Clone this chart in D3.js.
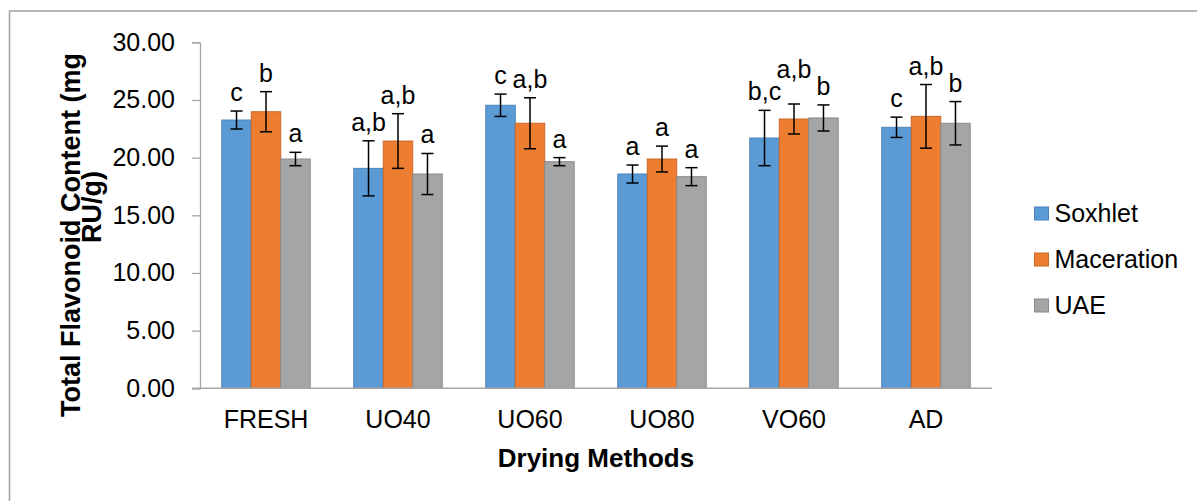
<!DOCTYPE html>
<html>
<head>
<meta charset="utf-8">
<script src="https://cdn.jsdelivr.net/npm/d3@7"></script>
<style>
  body { margin: 0; background: #fff; }
  text { font-family: 'Liberation Sans', Arial, sans-serif; }
</style>
</head>
<body>
<div id="chart"></div>
<script>
const categories = ['FRESH', 'UO40', 'UO60', 'UO80', 'VO60', 'AD']
const seriesNames = ['Soxhlet', 'Maceration', 'UAE']

const soxhlet = [23.26, 19.07, 24.54, 18.58, 21.70, 22.63]
const maceration = [23.98, 21.44, 22.98, 19.88, 23.35, 23.58]
const uae = [19.88, 18.58, 19.65, 18.35, 23.44, 22.98]

const soxhletErr = [0.78, 2.39, 0.97, 0.78, 2.40, 0.88]
const macerationErr = [1.74, 2.37, 2.21, 1.12, 1.30, 2.76]
const uaeErr = [0.58, 1.78, 0.35, 0.78, 1.13, 1.88]

const soxhletLetters = ['c', 'a,b', 'c', 'a', 'b,c', 'c']
const macerationLetters = ['b', 'a,b', 'a,b', 'a', 'a,b', 'a,b']
const uaeLetters = ['a', 'a', 'a', 'a', 'b', 'b']

const yTicks = [0, 5, 10, 15, 20, 25, 30]

const options = {
  width: 1197,
  height: 501,
  padding: { top: 42.3, right: 205, bottom: 112.7, left: 200 },
  colors: ['#5b9bd5', '#ed7d31', '#a5a5a5'],
  strokes: ['#4a84b8', '#c8682a', '#8a8a8a'],
  axisColor: '#a6a6a6',
  fontSize: 25
}

const series = seriesNames.map((name, i) => ({
  name,
  values: [soxhlet, maceration, uae][i],
  errors: [soxhletErr, macerationErr, uaeErr][i],
  letters: [soxhletLetters, macerationLetters, uaeLetters][i]
}))

const { width, height, padding } = options
const plotRight = width - padding.right
const plotBottom = height - padding.bottom

const svg = d3.select('#chart')
  .append('svg')
  .attr('width', width)
  .attr('height', height)

// outer frame (runs off the right / bottom edge)
svg.append('rect')
  .attr('x', 9.5)
  .attr('y', 11)
  .attr('width', 1300)
  .attr('height', 600)
  .attr('fill', 'none')
  .attr('stroke', '#a0a0a0')
  .attr('stroke-width', 1.5)

const x0 = d3.scaleBand()
  .domain(categories)
  .range([padding.left, plotRight])
  .paddingInner(0.33)
  .paddingOuter(0.165)

const x1 = d3.scaleBand()
  .domain(seriesNames)
  .range([0, x0.bandwidth()])

const y = d3.scaleLinear()
  .domain([0, 30])
  .range([plotBottom, padding.top])

// y axis
const gY = svg.append('g')
  .attr('transform', `translate(${padding.left},0)`)
  .call(d3.axisLeft(y).tickValues(yTicks).tickSize(8).tickPadding(17).tickFormat(d3.format('.2f')))
gY.select('.domain').attr('stroke', options.axisColor).attr('stroke-width', 1.3)
gY.selectAll('.tick line').attr('stroke', options.axisColor).attr('stroke-width', 1.3)
gY.selectAll('.tick text')
  .attr('font-size', options.fontSize)
  .attr('font-family', "'Liberation Sans', Arial, sans-serif")
  .attr('fill', '#000')

// bars
const gBars = svg.append('g')
series.forEach((s, si) => {
  gBars.selectAll(`.bar-${si}`)
    .data(categories)
    .enter()
    .append('rect')
    .attr('x', (d) => x0(d) + x1(s.name))
    .attr('y', (d, i) => y(s.values[i]))
    .attr('width', x1.bandwidth())
    .attr('height', (d, i) => y(0) - y(s.values[i]))
    .attr('fill', options.colors[si])
    .attr('stroke', options.strokes[si])
    .attr('stroke-width', 1)
})

// x axis (category labels, no ticks)
const gX = svg.append('g')
  .attr('transform', `translate(0,${plotBottom})`)
  .call(d3.axisBottom(x0).tickSize(0).tickPadding(22))
gX.select('.domain').remove()
gX.append('line')
  .attr('x1', padding.left - 8)
  .attr('x2', plotRight)
  .attr('stroke', options.axisColor)
  .attr('stroke-width', 1.5)
gX.selectAll('.tick text')
  .attr('font-size', options.fontSize)
  .attr('font-family', "'Liberation Sans', Arial, sans-serif")
  .attr('fill', '#000')

// error bars
const capHalf = 6
const gErr = svg.append('g').attr('stroke', '#000').attr('stroke-width', 1.5)
series.forEach((s) => {
  categories.forEach((c, i) => {
    const cx = x0(c) + x1(s.name) + x1.bandwidth() / 2
    const top = y(s.values[i] + s.errors[i])
    const bot = y(s.values[i] - s.errors[i])
    gErr.append('line').attr('x1', cx).attr('x2', cx).attr('y1', top).attr('y2', bot)
    gErr.append('line').attr('x1', cx - capHalf).attr('x2', cx + capHalf).attr('y1', top).attr('y2', top)
    gErr.append('line').attr('x1', cx - capHalf).attr('x2', cx + capHalf).attr('y1', bot).attr('y2', bot)
  })
})

// significance letters, lifted a line when they would collide with the neighbour
const gLetters = svg.append('g')
categories.forEach((c, i) => {
  let prev = null
  series.forEach((s) => {
    const cx = x0(c) + x1(s.name) + x1.bandwidth() / 2
    let baseY = y(s.values[i] + s.errors[i]) - 10
    const t = gLetters.append('text')
      .attr('x', cx)
      .attr('text-anchor', 'middle')
      .attr('font-size', options.fontSize)
      .attr('fill', '#000')
      .text(s.letters[i])
    const w = t.node().getComputedTextLength()
    if (prev && (cx - w / 2) < prev.right && Math.abs(baseY - prev.y) < 20) {
      baseY = prev.y - 22
    }
    t.attr('y', baseY)
    prev = { right: cx + w / 2, y: baseY }
  })
})

// axis titles
svg.append('text')
  .attr('x', (padding.left + plotRight) / 2)
  .attr('y', 466.5)
  .attr('text-anchor', 'middle')
  .attr('font-size', 26)
  .attr('font-weight', 'bold')
  .text('Drying Methods')

const yTitle = ['Total Flavonoid Content (mg', 'RU/g)']
const yTitleCenters = [235, 207]
yTitle.forEach((line, i) => {
  svg.append('text')
    .attr('transform', `translate(${80 + i * 20.5},${yTitleCenters[i]}) rotate(-90)`)
    .attr('text-anchor', 'middle')
    .attr('font-size', 27)
    .attr('font-weight', 'bold')
    .text(line)
})

// legend
const gLegend = svg.append('g').attr('transform', 'translate(1034.5,207)')
seriesNames.forEach((name, i) => {
  gLegend.append('rect')
    .attr('x', 0)
    .attr('y', i * 46)
    .attr('width', 14)
    .attr('height', 13)
    .attr('fill', options.colors[i])
    .attr('stroke', options.strokes[i])
  gLegend.append('text')
    .attr('x', 20)
    .attr('y', i * 46 + 14.5)
    .attr('font-size', options.fontSize)
    .text(name)
})
</script>
</body>
</html>
